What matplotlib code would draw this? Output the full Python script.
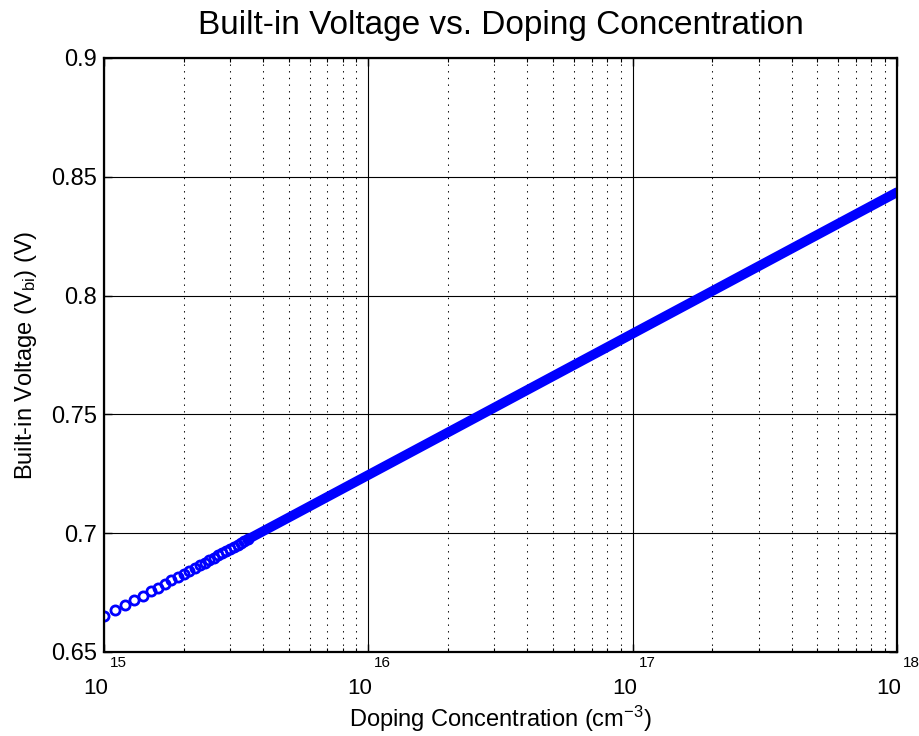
import numpy as np
import matplotlib
matplotlib.use("Agg")
import matplotlib.pyplot as plt
import matplotlib.transforms as mtransforms
from matplotlib.ticker import LogLocator, NullFormatter

plt.rcParams['font.family'] = ['Liberation Sans', 'DejaVu Sans']
plt.rcParams['mathtext.fontset'] = 'custom'
plt.rcParams['mathtext.rm'] = 'Liberation Sans'
plt.rcParams['mathtext.it'] = 'Liberation Sans:italic'
plt.rcParams['mathtext.bf'] = 'Liberation Sans:bold'

# doping (cm^-3) where the samples are still resolved as separate circles
N_sparse = [1.0e15, 1.1e15, 1.2e15, 1.3e15, 1.4e15, 1.5e15, 1.6e15, 1.7e15,
            1.8e15, 1.9e15, 2.0e15, 2.1e15, 2.2e15, 2.3e15, 2.4e15, 2.5e15,
            2.6e15, 2.7e15, 2.8e15, 2.9e15, 3.0e15, 3.1e15, 3.2e15, 3.3e15,
            3.4e15, 3.5e15]
Vbi_sparse = [0.6650, 0.6675, 0.6697, 0.6718, 0.6737, 0.6755, 0.6771, 0.6787,
              0.6802, 0.6816, 0.6829, 0.6842, 0.6854, 0.6865, 0.6876, 0.6887,
              0.6897, 0.6907, 0.6916, 0.6925, 0.6934, 0.6942, 0.6951, 0.6959,
              0.6966, 0.6974]

# higher doping: samples so close that the circles merge into one band
N_dense = [3.5e15, 5e15, 1e16, 2e16, 5e16, 1e17, 2e17, 5e17, 1e18]
Vbi_dense = [0.6974, 0.7066, 0.7245, 0.7424, 0.7661, 0.7840, 0.8019, 0.8256, 0.8435]

yticks = [0.65, 0.7, 0.75, 0.8, 0.85, 0.9]
ytick_labels = ['0.65', '0.7', '0.75', '0.8', '0.85', '0.9']
decades = [15, 16, 17, 18]

fig = plt.figure(figsize=(9.19, 7.36), dpi=100)
ax = fig.add_axes([104 / 919, 1 - 652 / 736, (897 - 104) / 919, (652 - 58) / 736])

blue = (0, 0, 1)
ax.plot(N_dense, Vbi_dense, '-', color=blue, lw=7, solid_capstyle='round', zorder=3)
ax.plot(N_sparse, Vbi_sparse, 'o', color=blue, mfc='none', ms=6.6, mew=2.0, zorder=4)

ax.set_xscale('log')
ax.set_xlim(10.0 ** decades[0], 10.0 ** decades[-1])
ax.set_ylim(yticks[0], yticks[-1])
ax.xaxis.set_major_locator(LogLocator(base=10, numticks=10))
ax.xaxis.set_minor_locator(LogLocator(base=10, subs=np.arange(2, 10), numticks=10))
ax.xaxis.set_major_formatter(NullFormatter())
ax.set_yticks(yticks)
ax.set_yticklabels(ytick_labels)

# MATLAB-style decade labels: "10" with a small, well raised exponent
base = mtransforms.blended_transform_factory(ax.transData, ax.transAxes)
for d in decades:
    t10 = base + mtransforms.ScaledTranslation(4 / 100, -42 / 100, fig.dpi_scale_trans)
    ax.text(10.0 ** d, 0, '10', transform=t10, ha='right', va='baseline', fontsize=16)
    texp = base + mtransforms.ScaledTranslation(6 / 100, -15 / 100, fig.dpi_scale_trans)
    ax.text(10.0 ** d, 0, str(d), transform=texp, ha='left', va='baseline', fontsize=11)

ax.grid(which='major', axis='both', color='black', lw=0.8, ls='-')
ax.grid(which='minor', axis='x', color='black', lw=0.75, ls=(0, (1.3, 5.1)))
ax.set_axisbelow(True)

for s in ax.spines.values():
    s.set_linewidth(1.6)
    s.set_zorder(5)

ax.tick_params(which='major', direction='in', length=6, width=1, labelsize=17,
               top=True, right=True, pad=5)
ax.tick_params(which='minor', direction='in', length=3, width=0.8, top=True)

ax.set_title('Built-in Voltage vs. Doping Concentration', fontsize=24, pad=17)
ax.set_xlabel('Doping Concentration (cm$^{-3}$)', fontsize=17, labelpad=32)
ax.set_ylabel('Built-in Voltage (V$_{\\mathrm{bi}}$) (V)', fontsize=17, labelpad=9)

fig.savefig('out.png', dpi=100)
